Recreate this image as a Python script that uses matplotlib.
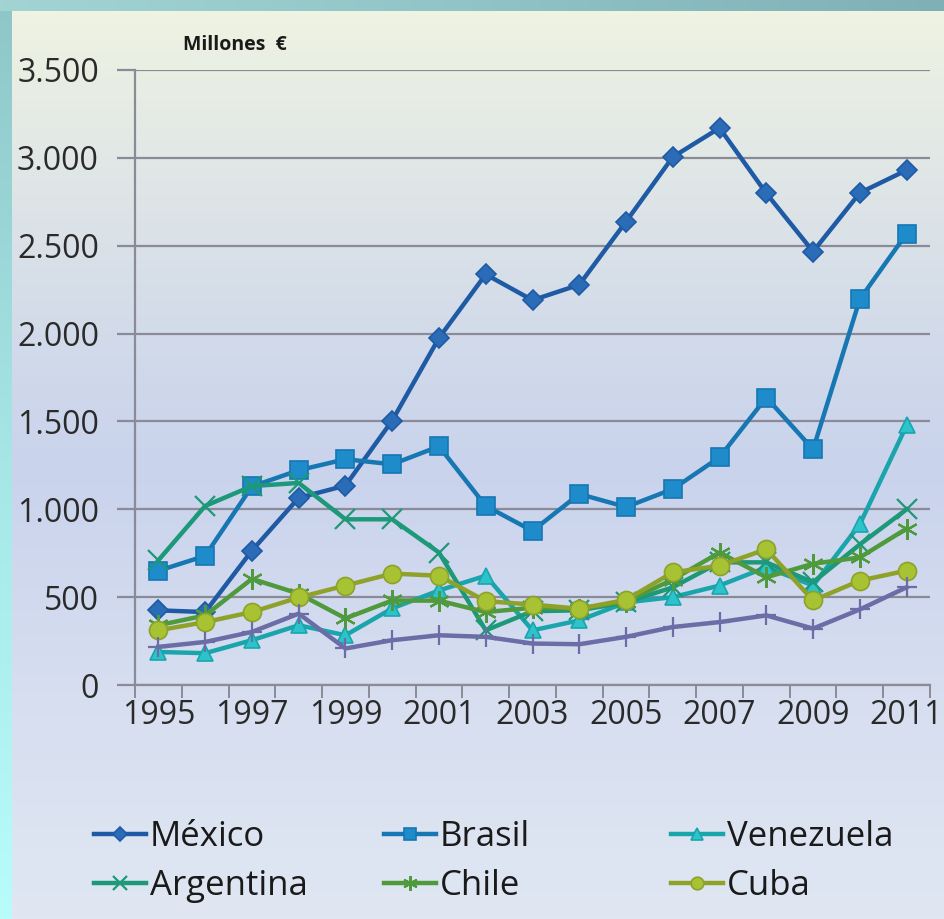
import matplotlib
matplotlib.use("Agg")
import matplotlib.pyplot as plt
import numpy as np
from matplotlib.colors import LinearSegmentedColormap
from matplotlib.ticker import FuncFormatter, FixedLocator

plt.rcParams['font.family'] = ['Open Sans', 'DejaVu Sans']

# Data (millones de euros)
years = list(range(1995, 2012))
mexico = [425, 415, 765, 1065, 1135, 1505, 1975, 2337, 2190, 2278, 2637, 3005, 3170, 2798, 2467, 2801, 2930]
brasil = [650, 735, 1130, 1222, 1285, 1256, 1358, 1019, 877, 1087, 1013, 1115, 1296, 1636, 1341, 2196, 2569]
venezuela = [188, 181, 255, 340, 283, 436, 538, 622, 311, 368, 470, 500, 566, 670, 566, 915, 1477]
argentina = [710, 1019, 1132, 1150, 943, 943, 754, 311, 420, 425, 470, 556, 698, 698, 585, 800, 1000]
chile = [340, 396, 604, 520, 379, 481, 480, 415, 440, 435, 475, 600, 754, 613, 690, 726, 890]
cuba = [311, 358, 415, 498, 566, 634, 622, 477, 458, 434, 485, 641, 679, 773, 481, 594, 651]
otros = [217, 245, 302, 406, 208, 255, 283, 274, 236, 232, 274, 330, 358, 396, 321, 430, 556]

yticks = [0, 500, 1000, 1500, 2000, 2500, 3000, 3500]

W, H = 944, 919
fig = plt.figure(figsize=(W / 100, H / 100), dpi=100)

# background: teal frame + soft vertical gradient panel
bg = fig.add_axes([0, 0, 1, 1], zorder=-10)
bg.set_axis_off()
bg.set_xlim(0, W)
bg.set_ylim(H, 0)
frame = LinearSegmentedColormap.from_list('frame', ['#8fc6c8', '#a6e6e6', '#b8fcfc'])
bg.imshow(np.linspace(0, 1, 256)[:, None], cmap=frame, aspect='auto',
          extent=[0, W, H, 0])
topbar = LinearSegmentedColormap.from_list('top', ['#a2d4d4', '#90c4c6', '#7fb0b6'])
bg.imshow(np.linspace(0, 1, 256)[None, :], cmap=topbar, aspect='auto',
          extent=[0, W, 11, 0])
panel = LinearSegmentedColormap.from_list(
    'panel', [(0, '#eff3e2'), (0.3, '#d6dee9'), (0.5, '#c9d3ec'), (0.75, '#d6def0'), (1, '#e0e7f3')])
bg.imshow(np.linspace(0, 1, 256)[:, None], cmap=panel, aspect='auto',
          extent=[12, W, H, 11])

ax = fig.add_axes([135 / W, 1 - 685 / H, 795 / W, 615 / H])
ax.patch.set_alpha(0)

x = np.arange(len(years))
series = [
    ('México', mexico, '#1f5aa4', '#2a6cb8', 'D', 10),
    ('Brasil', brasil, '#1677b2', '#1e8bcb', 's', 13),
    ('Venezuela', venezuela, '#1aa5ad', '#2cc3cb', '^', 12),
    ('Argentina', argentina, '#1d9878', '#1d9878', 'x', 14),
    ('Chile', chile, '#4f9a3c', '#4f9a3c', (6, 2, 0), 15),
    ('Cuba', cuba, '#8ea22a', '#a7c232', 'o', 13),
    ('_otros', otros, '#6c6ca6', '#6c6ca6', '+', 14),
]
handles = {}
for name, vals, lc, mc, mk, ms in series:
    thin = mk in ('x', '+') or isinstance(mk, tuple)
    ln, = ax.plot(x, vals, color=lc, lw=3.2, marker=mk, ms=ms,
                  markerfacecolor=mc, markeredgecolor=lc,
                  markeredgewidth=1.6 if thin else 1.2, label=name, zorder=3)
    handles[name] = ln

ax.set_xlim(-0.5, len(years) - 0.5)
ax.set_ylim(0, 3500)
ax.yaxis.set_major_locator(FixedLocator(yticks))
ax.yaxis.set_major_formatter(FuncFormatter(lambda v, p: f'{int(v):,}'.replace(',', '.')))
ax.grid(axis='y', color='#8a8a98', lw=1.6, zorder=0)
ax.set_axisbelow(True)

ax.xaxis.set_major_locator(FixedLocator(x[::2]))
ax.set_xticklabels([str(y) for y in years[::2]])
ax.xaxis.set_minor_locator(FixedLocator(np.arange(-0.5, len(years), 1)))
ax.tick_params(axis='x', which='major', length=0, pad=10, labelsize=23, labelcolor='#2a2a2a')
ax.tick_params(axis='x', which='minor', length=9, width=1.4, color='#8a8a98', direction='out')
ax.tick_params(axis='y', length=13, width=1.6, color='#8a8a98', pad=13, labelsize=23,
               labelcolor='#2a2a2a')

for s in ('top', 'right'):
    ax.spines[s].set_visible(False)
for s in ('left', 'bottom'):
    ax.spines[s].set_color('#8a8a98')
    ax.spines[s].set_linewidth(1.6)

fig.text(183 / W, 1 - 45 / H, 'Millones  €', fontsize=14, fontweight='bold',
         color='#1a1a1a', va='center', ha='left')

# legend: three columns spread evenly, like the original
columns = [(('México', 'Argentina'), 77), (('Brasil', 'Chile'), 367), (('Venezuela', 'Cuba'), 654)]
for names, px in columns:
    leg = fig.legend([handles[n] for n in names], names, loc='upper left',
                     bbox_to_anchor=(px / W, 1 - 803 / H), frameon=False,
                     fontsize=25, handlelength=1.5, handletextpad=0.1,
                     labelspacing=0.42, markerscale=0.7, borderpad=0)
    for t in leg.get_texts():
        t.set_color('#1a1a1a')

fig.savefig('out.png', dpi=100)
